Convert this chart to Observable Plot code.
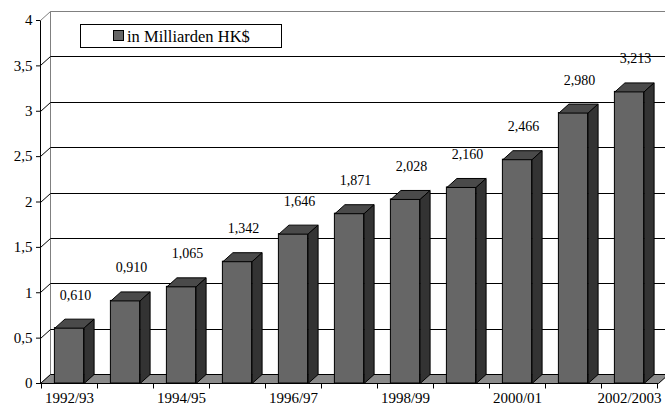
<!DOCTYPE html>
<html><head><meta charset="utf-8">
<script src="https://cdn.jsdelivr.net/npm/d3@7"></script>
<script src="https://cdn.jsdelivr.net/npm/@observablehq/plot@0.6"></script>
<style>body{margin:0;background:#fff} svg text{font-family:"Liberation Serif","DejaVu Serif",serif !important;}</style>
</head><body><div id="chart"></div>
<script>
const categories = ["1992/93","1993/94","1994/95","1995/96","1996/97","1997/98","1998/99","1999/2000","2000/01","2001/02","2002/2003"];
const values = [0.610, 0.910, 1.065, 1.342, 1.646, 1.871, 2.028, 2.160, 2.466, 2.980, 3.213];
const valueLabels = ["0,610","0,910","1,065","1,342","1,646","1,871","2,028","2,160","2,466","2,980","3,213"];
const yTicks = [0, 0.5, 1, 1.5, 2, 2.5, 3, 3.5, 4];
const yTickLabels = ["0","0,5","1","1,5","2","2,5","3","3,5","4"];
const xTickLabels = ["1992/93","","1994/95","","1996/97","","1998/99","","2000/01","","2002/2003"];
const seriesName = "in Milliarden HK$";

const data = categories.map((c, i) => ({cat: c, value: values[i], label: valueLabels[i]}));

const DX = 10, DY = -9;      // depth offset of the 3D effect
const INSET = 13.4;          // bar inset in the band
const FONT = '"Liberation Serif", "DejaVu Serif", serif';

function poly(g, pts, fill, stroke) {
  g.append("polygon")
    .attr("points", pts.map(p => p.join(",")).join(" "))
    .attr("fill", fill).attr("stroke", stroke).attr("stroke-width", 1)
    .attr("stroke-linejoin", "miter");
}

function walls(index, scales, values, dims) {
  const {x, y} = scales;
  const L = dims.marginLeft, R = dims.width - dims.marginRight;
  const y0 = y(0), yTop = y(yTicks[yTicks.length - 1]);
  const g = d3.create("svg:g").attr("transform", "translate(0.5,0.5)");
  poly(g, [[L + DX, yTop + DY], [R + DX, yTop + DY], [R + DX, y0 + DY], [L + DX, y0 + DY]], "#fff", "#808080");
  poly(g, [[L, yTop], [L + DX, yTop + DY], [L + DX, y0 + DY], [L, y0]], "#fff", "#808080");
  for (const t of yTicks.slice(1, -1)) {
    const yy = Math.round(y(t));
    g.append("polyline")
      .attr("points", `${L},${yy} ${L + DX},${yy + DY} ${R + DX},${yy + DY}`)
      .attr("fill", "none").attr("stroke", "#000");
  }
  poly(g, [[L, y0], [R, y0], [R + DX, y0 + DY], [L + DX, y0 + DY]], "#8a8a8a", "#000");
  return g.node();
}

function axesLines(index, scales, values, dims) {
  const {x, y} = scales;
  const L = dims.marginLeft;
  const y0 = Math.round(y(0)), yTop = Math.round(y(yTicks[yTicks.length - 1]));
  const g = d3.create("svg:g").attr("transform", "translate(0.5,0.5)").attr("stroke", "#000");
  g.append("line").attr("x1", L).attr("x2", L).attr("y1", yTop).attr("y2", y0);
  const bw = x.bandwidth();
  const bounds = categories.map(c => x(c)).concat([x(categories[categories.length - 1]) + bw]);
  for (const b of bounds) {
    const bx = Math.round(b);
    g.append("line").attr("x1", bx).attr("x2", bx).attr("y1", y0).attr("y2", y0 + 5);
  }
  return g.node();
}

function bars3d(index, scales, values, dims) {
  const {x, y} = scales;
  const bw = x.bandwidth();
  const g = d3.create("svg:g").attr("transform", "translate(0.5,0.5)");
  data.forEach(d => {
    const x0 = x(d.cat) + INSET, x1 = x(d.cat) + bw - INSET;
    const yt = y(d.value), yb = y(0);
    poly(g, [[x0, yt], [x1, yt], [x1 + DX, yt + DY], [x0 + DX, yt + DY]], "#4a4a4a", "#000");
    poly(g, [[x1, yt], [x1 + DX, yt + DY], [x1 + DX, yb + DY], [x1, yb]], "#333333", "#000");
  });
  return g.node();
}

function legend(index, scales, values, dims) {
  const g = d3.create("svg:g");
  g.append("rect").attr("x", 80.5).attr("y", 24.5).attr("width", 201).attr("height", 23)
    .attr("fill", "#fff").attr("stroke", "#000");
  g.append("rect").attr("x", 113.5).attr("y", 30.5).attr("width", 10).attr("height", 10)
    .attr("fill", "#666").attr("stroke", "#000");
  g.append("text").attr("x", 127).attr("y", 41.5).attr("text-anchor", "start")
    .attr("font-family", FONT).attr("font-size", 16.5).attr("fill", "#000")
    .text(seriesName);
  return g.node();
}

const chart = Plot.plot({
  width: 665,
  height: 410,
  marginLeft: 40,
  marginRight: 7,
  marginTop: 20,
  marginBottom: 27,
  style: {fontFamily: FONT, fontSize: "15px", color: "#000", background: "#fff"},
  x: {type: "band", domain: categories, padding: 0, label: null},
  y: {domain: [0, 4], label: null},
  marks: [
    walls,
    Plot.barY(data, {x: "cat", y: "value", fill: "#666666", stroke: "#000", strokeWidth: 1,
      insetLeft: INSET, insetRight: INSET}),
    bars3d,
    Plot.ruleY([0], {stroke: "#000"}),
    axesLines,
    Plot.axisY({ticks: yTicks, tickFormat: d => yTickLabels[yTicks.indexOf(d)], tickSize: 4, tickPadding: 4,
      fontSize: 15, fontFamily: FONT, label: null}),
    Plot.axisX({tickSize: 0, tickPadding: 9, tickFormat: (d, i) => xTickLabels[categories.indexOf(d)],
      fontSize: 15, fontFamily: FONT, label: null}),
    Plot.text(data, {x: "cat", y: "value", text: "label", dx: 6, dy: -33, fontSize: 14, fontFamily: FONT, fill: "#000"}),
    legend
  ]
});
document.getElementById("chart").appendChild(chart);
</script>
</body></html>
